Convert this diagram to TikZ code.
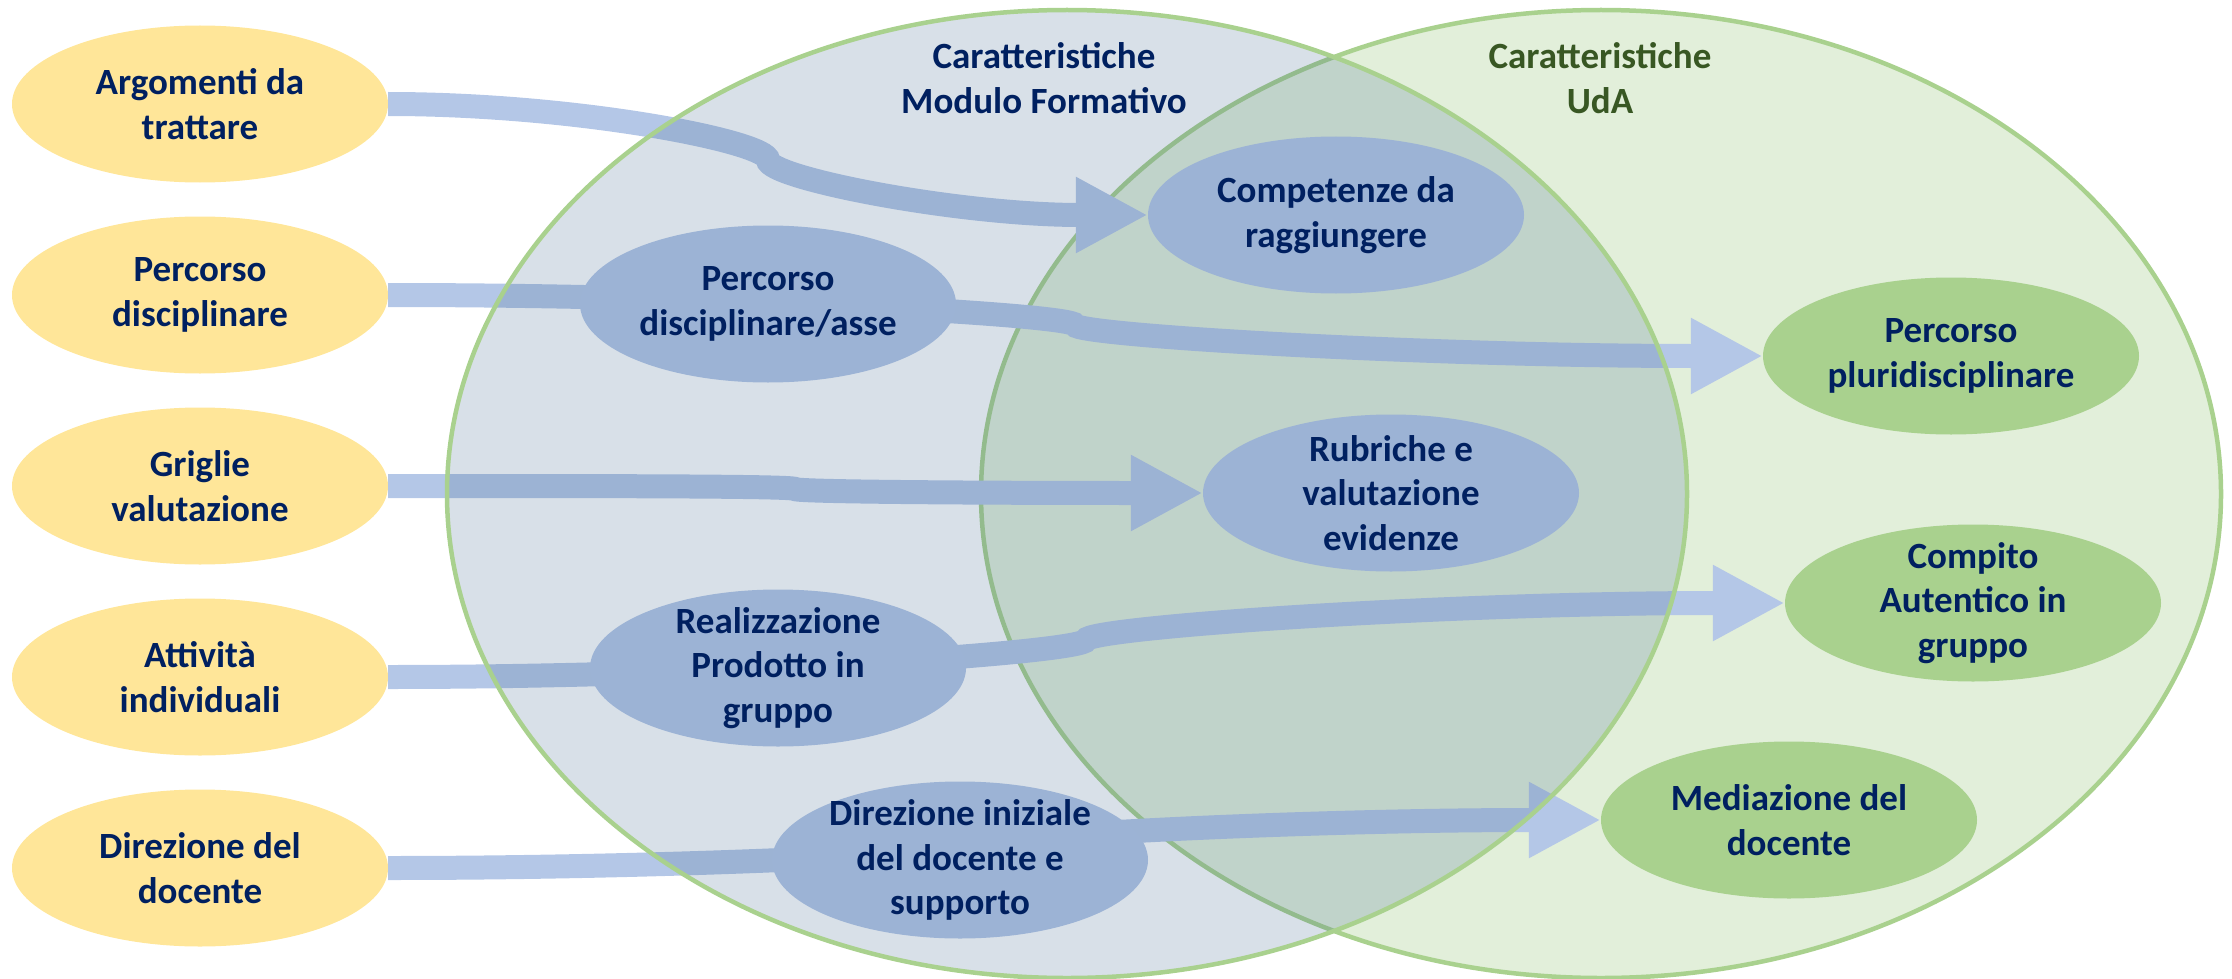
\documentclass[tikz,border=0pt]{standalone}
\usepackage{fontspec}
\setmainfont{Carlito}
\usetikzlibrary{shapes.geometric,arrows.meta}
\definecolor{cffe699}{RGB}{255,230,153}
\definecolor{ca9d18e}{RGB}{169,209,142}
\definecolor{cb4c7e7}{RGB}{180,199,231}
\definecolor{c9cb3d5}{RGB}{156,179,213}
\definecolor{ce2efda}{RGB}{226,239,218}
\definecolor{c3c648c}{RGB}{60,100,140}
\definecolor{c002060}{RGB}{0,32,96}
\definecolor{c385723}{RGB}{56,87,35}
\pgfdeclarelayer{bottom}
\pgfdeclarelayer{background}
\pgfdeclarelayer{front}
\pgfsetlayers{bottom,background,main,front}
\newcommand{\nodefont}{\fontsize{37}{44.5}\selectfont\bfseries}
\tikzset{bubble/.style={ellipse,minimum width=376pt,minimum height=157pt,
inner xsep=-80pt,inner ysep=-40pt,align=center,text=c002060,font=\nodefont},
yellowbubble/.style={bubble,fill=cffe699},
bluebubble/.style={bubble,fill=c9cb3d5},
greenbubble/.style={bubble,fill=ca9d18e},
headline/.style={align=center,font=\nodefont},
band/.style={draw=cb4c7e7,line width=24pt,-{Triangle[length=72pt,width=71pt]}}}

\begin{document}
\begin{tikzpicture}[x=1pt,y=-1pt]
\useasboundingbox (0,0) rectangle (2232,979);

% insieme UdA
\begin{pgfonlayer}{bottom}
\draw[ca9d18e,line width=4.5pt,fill=ce2efda] (1601,494) ellipse [x radius=620pt,y radius=484pt];
\end{pgfonlayer}

% insieme modulo formativo, sopra le frecce
\begin{pgfonlayer}{front}
\fill[c3c648c,fill opacity=0.2] (1067,494) ellipse [x radius=620pt,y radius=484pt];
\draw[ca9d18e,line width=4.5pt] (1067,494) ellipse [x radius=620pt,y radius=484pt];
\node[headline,text=c002060] (tmod) at (1044,78) {Caratteristiche\\Modulo Formativo};
\node[headline,text=c385723] (tuda) at (1600,78) {Caratteristiche\\UdA};
\node[bluebubble] (comp) at (1336,215) {Competenze da\\raggiungere};
\node[bluebubble] (passe) at (768,304) {Percorso\\disciplinare/asse};
\node[bluebubble] (rub) at (1391,493) {Rubriche e\\valutazione\\evidenze};
\node[bluebubble] (real) at (778,668) {Realizzazione\\Prodotto in\\gruppo};
\node[bluebubble] (dini) at (960,860) {Direzione iniziale\\del docente e\\supporto};
\end{pgfonlayer}

\node[yellowbubble] (arg) at (200,104) {Argomenti da\\trattare};
\node[yellowbubble] (pdis) at (200,295) {Percorso\\disciplinare};
\node[yellowbubble] (gri) at (200,486) {Griglie\\valutazione};
\node[yellowbubble] (att) at (200,677) {Attività\\individuali};
\node[yellowbubble] (dir) at (200,868) {Direzione del\\docente};

\node[greenbubble] (pluri) at (1951,356) {Percorso\\pluridisciplinare};
\node[greenbubble] (auth) at (1973,603) {Compito\\Autentico in\\gruppo};
\node[greenbubble] (med) at (1789,820) {Mediazione del\\docente};

% frecce
\begin{pgfonlayer}{background}
\draw[band] (arg.east) .. controls +(190,0) and +(0,-18) .. (768,160) .. controls +(0,18) and +(-190,0) .. (comp.west);
\draw[band] (pdis.east) .. controls +(344,0) and +(0,-10) .. (1075,325) .. controls +(0,10) and +(-344,0) .. (pluri.west);
\draw[band] (gri.east) .. controls +(204,0) and +(0,-3) .. (795,489) .. controls +(0,3) and +(-204,0) .. (rub.west);
\draw[band] (att.east) .. controls +(349,0) and +(0,12) .. (1086,640) .. controls +(0,-12) and +(-349,0) .. (auth.west);
\draw[band] (dir.east) .. controls +(303,0) and +(0,8) .. (994,844) .. controls +(0,-8) and +(-303,0) .. (med.west);
\end{pgfonlayer}

\end{tikzpicture}
\end{document}
